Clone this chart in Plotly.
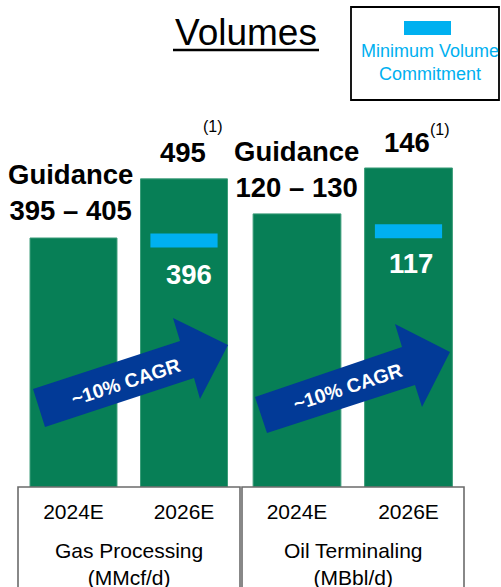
import plotly.graph_objects as go

# --- data ---
years = ["2024E", "2026E"]
gas_values = [400, 495]          # MMcf/d (2024E guidance midpoint)
oil_values = [125, 146]          # MBbl/d (2024E guidance midpoint)
gas_mvc = 396
oil_mvc = 117
gas_guidance = "395 – 405"
oil_guidance = "120 – 130"
gas_unit = "Gas Processing<br>(MMcf/d)"
oil_unit = "Oil Terminaling<br>(MBbl/d)"
cagr_text = "~10% CAGR"

GREEN = "#077f56"
MVC_BLUE = "#00b0f0"
ARROW_BLUE = "#023a97"
FONT = "Liberation Sans, Arial, sans-serif"

W, H = 501, 587
T, B = 100, 100
PH = H - T - B


def px(x):
    return x / W


def py(y):
    return (H - B - y) / PH


fig = go.Figure()

fig.add_trace(go.Bar(x=years, y=gas_values, xaxis="x", yaxis="y", width=0.787,
                     marker=dict(color=GREEN, line=dict(color="#3a9c78", width=1))))
fig.add_trace(go.Bar(x=years, y=oil_values, xaxis="x2", yaxis="y2", width=0.787,
                     marker=dict(color=GREEN, line=dict(color="#3a9c78", width=1))))

# minimum volume commitment markers
fig.add_trace(go.Scatter(x=[years[1]], y=[gas_mvc], xaxis="x", yaxis="y", mode="markers",
                         marker=dict(symbol="line-ew", size=48, line=dict(color=MVC_BLUE, width=14))))
fig.add_trace(go.Scatter(x=[years[1]], y=[oil_mvc], xaxis="x2", yaxis="y2", mode="markers",
                         marker=dict(symbol="line-ew", size=48, line=dict(color=MVC_BLUE, width=14))))

axis_common = dict(showgrid=False, zeroline=False, showline=False, ticks="", range=[-0.5, 1.5],
                   tickfont=dict(family=FONT, size=21, color="black"), fixedrange=True,
                   ticklabelstandoff=10)

fig.update_layout(
    width=W, height=H,
    margin=dict(l=0, r=0, t=T, b=B),
    paper_bgcolor="white", plot_bgcolor="white",
    showlegend=False,
    font=dict(family=FONT, color="black"),
    xaxis=dict(domain=[px(18.25), px(239.25)], **axis_common),
    xaxis2=dict(domain=[px(241.25), px(464.25)], anchor="y2", **axis_common),
    yaxis=dict(range=[0, PH / 0.6225], visible=False, fixedrange=True),
    yaxis2=dict(range=[0, PH / 2.185], visible=False, anchor="x2", fixedrange=True),
)

annotations = []
shapes = []


def note(text, x, y, size, color="black", **kw):
    return dict(text=text, x=x, y=y, xref="paper", yref="paper", showarrow=False,
                xanchor="center", yanchor="middle", font=dict(size=size, color=color), **kw)


# title
annotations.append(note("Volumes", px(245.5), py(32), 37))
shapes.append(dict(type="line", xref="paper", yref="paper", x0=px(173), x1=px(319),
                   y0=py(50), y1=py(50), line=dict(color="black", width=2.5)))

# legend box
shapes.append(dict(type="rect", xref="paper", yref="paper", x0=px(351), x1=px(499),
                   y0=py(7), y1=py(100), line=dict(color="black", width=1.8)))
shapes.append(dict(type="rect", xref="paper", yref="paper", x0=px(404), x1=px(451),
                   y0=py(21), y1=py(35), line=dict(width=0), fillcolor=MVC_BLUE))
annotations.append(note("Minimum Volume<br>Commitment", px(430), py(63), 18, MVC_BLUE))


def label(text, x, y, axes, yshift, xshift, size=27.5, color="black"):
    return dict(text=text, x=x, y=y, xref=axes[0], yref=axes[1], showarrow=False,
                xanchor="center", yanchor="middle", yshift=yshift, xshift=xshift,
                font=dict(size=size, color=color))


g, o = ("x", "y"), ("x2", "y2")
annotations += [
    label("<b>Guidance<br>%s</b>" % gas_guidance, years[0], gas_values[0], g, 46, -3),
    label("<b>%d</b>" % gas_values[1], years[1], gas_values[1], g, 26, -1.5),
    label("(1)", years[1], gas_values[1], g, 52, 29, size=16),
    label("<b>%d</b>" % gas_mvc, years[1], gas_mvc, g, -34, 5, color="white"),
    label("<b>Guidance<br>%s</b>" % oil_guidance, years[0], oil_values[0], o, 44.5, -0.5),
    label("<b>%d</b>" % oil_values[1], years[1], oil_values[1], o, 25, -2),
    label("(1)", years[1], oil_values[1], o, 38, 31.5, size=16),
    label("<b>%d</b>" % oil_mvc, years[1], oil_mvc, o, -32, 2, color="white"),
]

# category boxes + unit labels
for x0, x1, unit in [(18, 240, gas_unit), (242, 464, oil_unit)]:
    shapes.append(dict(type="path", xref="paper", yref="paper",
                       path="M %f,%f L %f,%f L %f,%f L %f,%f" % (px(x0), py(600), px(x0), py(487),
                                                                  px(x1), py(487), px(x1), py(600)),
                       line=dict(color="#6b6b6b", width=1.6)))
    annotations.append(note(unit, px((x0 + x1) / 2), py(564), 21))


# CAGR arrows
def arrow_path(pts):
    return "M " + " L ".join("%f,%f" % (px(a), py(b)) for a, b in pts) + " Z"


left_arrow = [(33, 389), (180, 341), (173, 318), (228, 345), (200, 399), (194, 378), (45, 427)]
right_arrow = [(255, 397), (402, 347), (395, 324), (450, 352), (422, 407), (415, 385), (267, 433)]
for pts, (cx, cy) in [(left_arrow, (125, 382)), (right_arrow, (347, 387))]:
    shapes.append(dict(type="path", xref="paper", yref="paper", path=arrow_path(pts),
                       fillcolor=ARROW_BLUE, line=dict(width=0)))
    annotations.append(note("<b>%s</b>" % cagr_text, px(cx), py(cy), 19.5, "white", textangle=-18))

fig.update_layout(annotations=annotations, shapes=shapes)

fig.write_html("out.html", config={"displayModeBar": False},
               post_script="document.body.style.margin='0';")
